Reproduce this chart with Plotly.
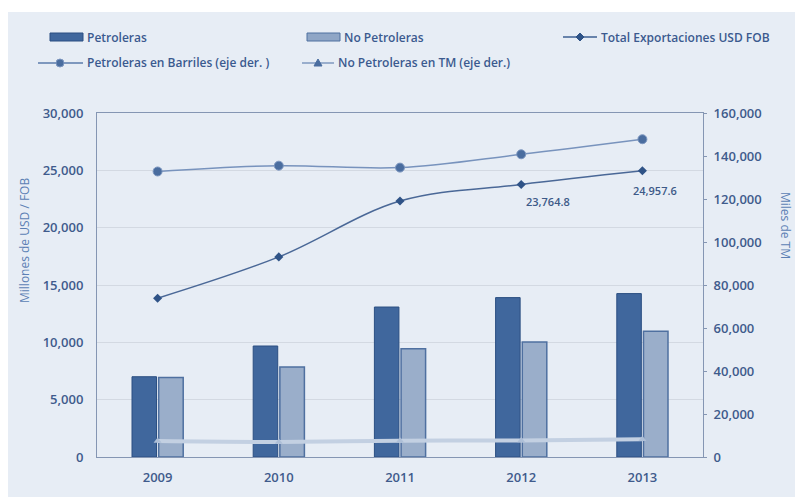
import plotly.graph_objects as go

# Export series by year
years = ["2009", "2010", "2011", "2012", "2013"]
petroleras = [7000, 9680, 13080, 13900, 14250]            # millones USD FOB
no_petroleras = [6930, 7850, 9450, 10030, 10960]          # millones USD FOB
total_fob = [13850, 17450, 22320, 23764.8, 24957.6]       # millones USD FOB
petroleras_barriles = [132800, 135500, 134600, 140800, 147800]  # eje der.
no_petroleras_tm = [7400, 7000, 7600, 7700, 8200]         # eje der.
labelled_years = ["2012", "2013"]

left_ticks = list(range(0, 30001, 5000))
right_ticks = list(range(0, 160001, 20000))

W, H = 795, 497
ML, MR, MT, MB = 97, 92, 113, 40
PW, PH = W - ML - MR, H - MT - MB

BG = "#e7edf5"
TXT = "#3f5b8c"
AXL = "#8596b3"
FONT = "Open Sans"


def px(x):
    return (x - ML) / PW


def py(y):
    return (H - MB - y) / PH


fig = go.Figure()

fig.add_trace(go.Bar(
    x=years, y=petroleras, name="Petroleras",
    marker=dict(color="#40679d", line=dict(color="#2b4f82", width=1)),
))
fig.add_trace(go.Bar(
    x=years, y=no_petroleras, name="No Petroleras",
    marker=dict(color="#9aaeca", line=dict(color="#4f70a0", width=1.5)),
))
fig.add_trace(go.Scatter(
    x=years, y=no_petroleras_tm, name="No Petroleras en TM (eje der.)",
    yaxis="y2", mode="lines+markers", line=dict(color="#c3d0e2", width=4, shape="spline"),
    marker=dict(symbol="triangle-up", size=7, color="#aebfd7"),
))
fig.add_trace(go.Scatter(
    x=years, y=petroleras_barriles, name="Petroleras en Barriles (eje der. )",
    yaxis="y2", mode="lines+markers", line=dict(color="#7893bd", width=1.5, shape="spline"),
    marker=dict(symbol="circle", size=9, color="#4a6d9f", line=dict(color="#7d97c0", width=1)),
))
fig.add_trace(go.Scatter(
    x=years, y=total_fob, name="Total Exportaciones USD FOB",
    mode="lines+markers", line=dict(color="#4a6897", width=1.5, shape="spline"),
    marker=dict(symbol="diamond", size=7, color="#2f5387"),
))

annotations = []
# value labels on the total line
label_offsets = {"2012": (27, -17), "2013": (13, -20)}
for yr in labelled_years:
    i = years.index(yr)
    v = total_fob[i]
    dx, dy = label_offsets[yr]
    annotations.append(dict(
        x=i, y=v, xref="x", yref="y", text=f"{v:,.1f}", showarrow=False,
        xshift=dx, yshift=dy, font=dict(family=FONT, size=11, color="#3d5a88", weight=600),
    ))

# axis titles
annotations.append(dict(
    x=px(24), y=py(241), xref="paper", yref="paper", xanchor="center", yanchor="middle",
    text="Millones de USD / FOB", textangle=-90, showarrow=False,
    font=dict(family=FONT, size=12, color="#5b7fb4"),
))
annotations.append(dict(
    x=px(786), y=py(225), xref="paper", yref="paper", xanchor="center", yanchor="middle",
    text="Miles de TM", textangle=90, showarrow=False,
    font=dict(family=FONT, size=12, color="#5b7fb4"),
))

shapes = [
    # panel background
    dict(type="rect", xref="paper", yref="paper", x0=px(8), x1=px(W + 5), y0=py(12), y1=py(H + 5),
         fillcolor=BG, line=dict(width=0), layer="below"),
]

# legend
leg_font = dict(family=FONT, size=12, color="#3b5a8f", weight=600)
row1, row2 = 37, 63
# Petroleras
shapes.append(dict(type="rect", xref="paper", yref="paper", x0=px(50), x1=px(83), y0=py(row1 + 4), y1=py(row1 - 4),
                   fillcolor="#40679d", line=dict(color="#2b4f82", width=1)))
annotations.append(dict(x=px(85), y=py(row1), xref="paper", yref="paper", xanchor="left", yanchor="middle",
                        text="Petroleras", showarrow=False, font=leg_font))
# No Petroleras
shapes.append(dict(type="rect", xref="paper", yref="paper", x0=px(307), x1=px(340), y0=py(row1 + 4), y1=py(row1 - 4),
                   fillcolor="#8fa6c6", line=dict(color="#4f70a0", width=1)))
annotations.append(dict(x=px(342), y=py(row1), xref="paper", yref="paper", xanchor="left", yanchor="middle",
                        text="No Petroleras", showarrow=False, font=leg_font))
# Total
shapes.append(dict(type="line", xref="paper", yref="paper", x0=px(563), x1=px(597), y0=py(row1), y1=py(row1),
                   line=dict(color="#3e5f92", width=1.5)))
shapes.append(dict(type="path", xref="paper", yref="paper",
                   path=f"M{px(580)},{py(row1 - 4)} L{px(584)},{py(row1)} L{px(580)},{py(row1 + 4)} L{px(576)},{py(row1)} Z",
                   fillcolor="#2f5387", line=dict(color="#2f5387", width=1)))
annotations.append(dict(x=px(599), y=py(row1), xref="paper", yref="paper", xanchor="left", yanchor="middle",
                        text="Total Exportaciones USD FOB", showarrow=False, font=leg_font))
# Petroleras en Barriles
shapes.append(dict(type="line", xref="paper", yref="paper", x0=px(38), x1=px(83), y0=py(row2), y1=py(row2),
                   line=dict(color="#5b7bab", width=1.5)))
shapes.append(dict(type="circle", xref="paper", yref="paper", x0=px(56), x1=px(64), y0=py(row2 + 4), y1=py(row2 - 4),
                   fillcolor="#4a6d9f", line=dict(color="#7d97c0", width=1)))
annotations.append(dict(x=px(85), y=py(row2), xref="paper", yref="paper", xanchor="left", yanchor="middle",
                        text="Petroleras en Barriles (eje der. )", showarrow=False, font=leg_font))
# No Petroleras en TM
shapes.append(dict(type="line", xref="paper", yref="paper", x0=px(302), x1=px(334), y0=py(row2), y1=py(row2),
                   line=dict(color="#7f98bf", width=1.5)))
shapes.append(dict(type="path", xref="paper", yref="paper",
                   path=f"M{px(318)},{py(row2 - 4)} L{px(322)},{py(row2 + 3)} L{px(314)},{py(row2 + 3)} Z",
                   fillcolor="#4a6d9f", line=dict(color="#4a6d9f", width=1)))
annotations.append(dict(x=px(336), y=py(row2), xref="paper", yref="paper", xanchor="left", yanchor="middle",
                        text="No Petroleras en TM (eje der.)", showarrow=False, font=leg_font))

tick_font = dict(family=FONT, size=13, color=TXT, weight=600)

fig.update_layout(
    width=W, height=H,
    margin=dict(l=ML, r=MR, t=MT, b=MB, pad=0),
    paper_bgcolor="white", plot_bgcolor="rgba(0,0,0,0)",
    showlegend=False,
    barmode="group", bargap=0.56, bargroupgap=0.08,
    font=dict(family=FONT, color=TXT),
    xaxis=dict(
        type="category", categoryorder="array", categoryarray=years,
        range=[-0.5, len(years) - 0.5], autorange=False,
        showline=True, linecolor=AXL, linewidth=1, mirror=True,
        showgrid=False, ticks="", tickfont=tick_font, ticklabelstandoff=8,
    ),
    yaxis=dict(
        range=[0, 30000], tickvals=left_ticks, tickformat=",", showline=True, linecolor=AXL,
        linewidth=1, showgrid=True, gridcolor="#d3d9e2", gridwidth=1, zeroline=False,
        ticks="", tickfont=tick_font, ticklabelstandoff=10,
    ),
    yaxis2=dict(
        range=[0, 160000], tickvals=right_ticks, tickformat=",", overlaying="y", side="right",
        showline=True, linecolor=AXL, linewidth=1, showgrid=False, zeroline=False,
        ticks="outside", ticklen=3, tickcolor=AXL, tickfont=tick_font,
        ticklabelstandoff=4,
    ),
    shapes=shapes,
    annotations=annotations,
)

fig.write_html("out.html")
